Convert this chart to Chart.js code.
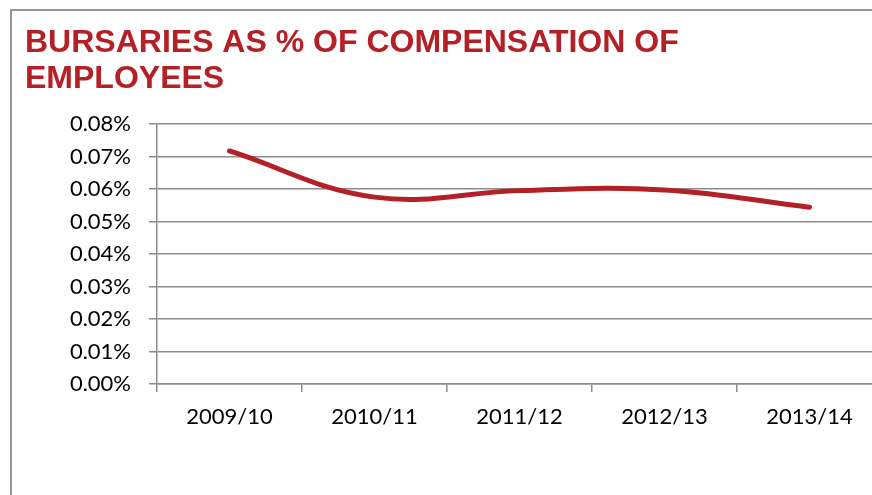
<!DOCTYPE html>
<html>
<head>
<meta charset="utf-8">
<script src="https://cdn.jsdelivr.net/npm/chart.js@4"></script>
<style>
  html, body { margin: 0; padding: 0; background: #fff; overflow: hidden; width: 872px; height: 495px; }
  #frame { position: absolute; left: 10px; top: 9px; width: 1000px; height: 1000px; border: 2px solid #959595; box-sizing: border-box; }
  #wrap { position: absolute; left: 0; top: 0; width: 900px; height: 495px; }
</style>
</head>
<body>
<div id="frame"></div>
<div id="wrap"><canvas id="chart"></canvas></div>
<script>
  // Данные (в процентах)
  const years = ['2009/10', '2010/11', '2011/12', '2012/13', '2013/14'];
  const bursaryShare = [0.0717, 0.0575, 0.0595, 0.0597, 0.0544];
  const titleLines = ['BURSARIES AS % OF COMPENSATION OF', 'EMPLOYEES'];

  const red = '#B32025';
  const gridGray = '#8c8c8c';
  const tickFont = { family: 'Lato', size: 22 };

  new Chart(document.getElementById('chart').getContext('2d'), {
    type: 'line',
    data: {
      labels: years,
      datasets: [{
        data: bursaryShare,
        borderColor: red,
        borderWidth: 5,
        borderCapStyle: 'round',
        pointRadius: 0,
        tension: 0.4,
        fill: false
      }]
    },
    options: {
      responsive: true,
      maintainAspectRatio: false,
      animation: false,
      layout: { padding: { left: 25, right: 18, top: 0, bottom: 0 } },
      plugins: {
        legend: { display: false },
        tooltip: { enabled: false },
        title: {
          display: true,
          text: titleLines,
          align: 'start',
          color: red,
          font: { family: 'Liberation Sans', size: 32, weight: 'bold', lineHeight: '36px' },
          padding: { top: 25, bottom: 27 }
        }
      },
      scales: {
        x: {
          offset: true,
          grid: { offset: true, drawOnChartArea: false, drawTicks: true, tickLength: 8, color: gridGray, lineWidth: 1.5 },
          border: { display: true, color: gridGray, width: 1.5 },
          ticks: { color: '#000', font: tickFont, padding: 12, maxRotation: 0 },
          afterFit: s => { s.height = 111; }
        },
        y: {
          min: 0,
          max: 0.08,
          grid: { color: gridGray, lineWidth: 1.5, tickLength: 8 },
          border: { display: true, color: gridGray, width: 1.5 },
          ticks: { stepSize: 0.01, color: '#000', font: tickFont, padding: 18, callback: v => v.toFixed(2) + '%' },
          afterFit: s => { s.width = 132; }
        }
      }
    }
  });
</script>
</body>
</html>
